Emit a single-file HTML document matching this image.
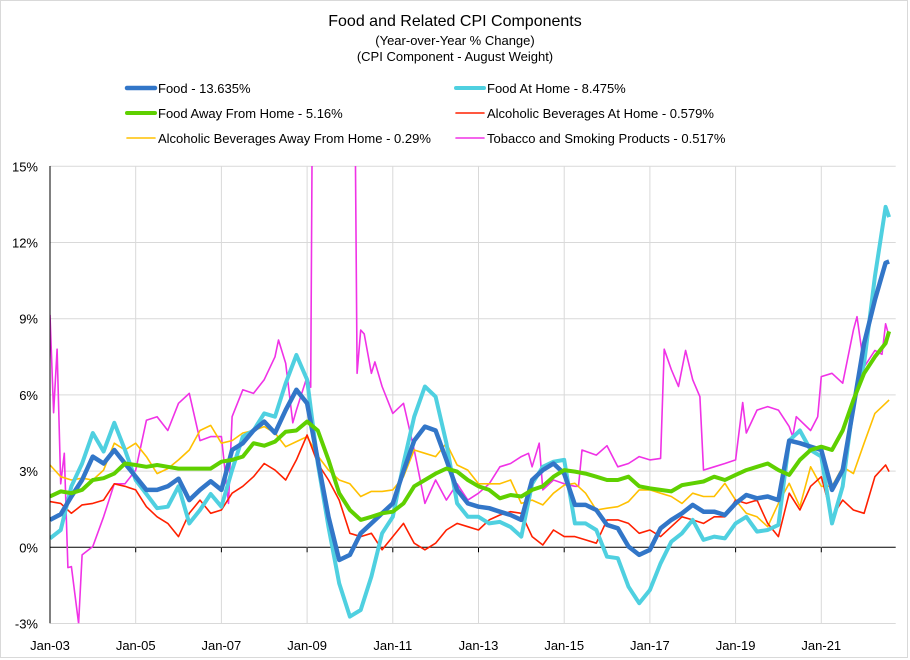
<!DOCTYPE html>
<html><head><meta charset="utf-8"><style>
html,body{margin:0;padding:0;background:#fff;}
svg{display:block;font-family:"Liberation Sans",sans-serif;}
</style></head><body>
<svg id="chart" width="910" height="660">
<rect x="0.5" y="0.5" width="907" height="657" fill="#fff" stroke="#d9d9d9"/>
<text x="455" y="26" text-anchor="middle" font-size="16" fill="#000">Food and Related CPI Components</text>
<text x="455" y="45" text-anchor="middle" font-size="13" fill="#000">(Year-over-Year % Change)</text>
<text x="455" y="61" text-anchor="middle" font-size="13" fill="#000">(CPI Component - August Weight)</text>
<g id="legend"></g>
<g id="grid"></g>
<g id="series"></g>
<g id="axes"></g>
</svg>
<script>
const monthsQ = [];
for (let m = 0; m <= 234; m += 3) monthsQ.push(m);
monthsQ.push(235);
const foodVals = [1.08,1.3,2.0,2.65,3.57,3.3,3.83,3.3,2.78,2.26,2.26,2.4,2.7,1.86,2.26,2.6,2.26,3.83,4.1,4.6,4.95,4.5,5.4,6.2,5.67,3.44,1.2,-0.5,-0.3,0.55,0.94,1.34,1.73,3.0,4.2,4.75,4.6,3.44,2.26,1.73,1.6,1.54,1.4,1.27,1.08,2.65,3.04,3.3,2.9,1.67,1.67,1.47,0.88,0.75,0.03,-0.3,-0.1,0.75,1.08,1.34,1.67,1.4,1.4,1.27,1.73,2.06,1.93,2.0,1.86,4.2,4.1,3.96,3.83,2.26,3.04,5.5,8.03,9.74,11.2,11.25];
const foodHomeVals = [0.35,0.68,2.4,3.3,4.5,3.77,4.9,3.83,2.65,2.1,1.54,1.6,2.4,0.94,1.47,2.1,1.6,3.04,4.36,4.6,5.27,5.14,6.46,7.57,6.6,3.3,0.8,-1.42,-2.73,-2.47,-1.15,0.55,1.2,3.3,5.14,6.33,5.93,4.1,1.73,1.2,1.2,0.94,1.0,0.8,0.42,2.5,3.17,3.37,3.44,0.94,0.94,0.68,-0.37,-0.43,-1.55,-2.2,-1.68,-0.63,0.22,0.55,1.08,0.29,0.42,0.35,0.94,1.2,0.62,0.68,0.88,4.2,4.6,3.83,3.57,0.94,2.4,5.67,7.24,10.66,13.4,13.0];
const foodAwayVals = [2.0,2.2,2.13,2.26,2.65,2.72,2.9,3.3,3.24,3.17,3.24,3.17,3.1,3.1,3.1,3.1,3.37,3.44,3.57,4.1,4.0,4.16,4.55,4.6,4.95,4.6,3.44,2.13,1.47,1.08,1.2,1.34,1.4,1.73,2.4,2.65,2.9,3.1,2.98,2.65,2.4,2.26,1.93,2.06,2.0,2.26,2.4,2.78,3.04,2.98,2.9,2.78,2.65,2.65,2.78,2.4,2.32,2.26,2.2,2.45,2.52,2.59,2.78,2.65,2.85,3.04,3.17,3.3,3.04,2.85,3.44,3.83,3.96,3.83,4.6,5.8,6.85,7.5,8.03,8.5];
const alcHomeVals = [1.8,1.73,1.34,1.67,1.73,1.86,2.5,2.4,2.26,1.6,1.2,0.94,0.42,1.34,1.86,1.34,1.47,2.13,2.4,2.78,3.3,3.04,2.65,3.44,4.42,3.3,2.65,1.86,0.55,0.42,0.55,-0.1,0.42,0.94,0.16,-0.1,0.16,0.68,0.94,0.81,0.68,1.08,1.27,1.4,1.34,0.42,0.09,0.68,0.42,0.42,0.29,0.16,1.08,1.08,0.94,0.55,0.68,0.42,0.81,1.2,1.08,0.94,1.2,1.2,1.86,1.73,1.86,0.94,0.42,2.13,1.47,2.4,2.78,1.2,1.86,1.47,1.34,2.78,3.24,2.98];
const alcAwayVals = [3.24,2.78,2.65,2.72,2.65,3.04,4.1,3.83,4.1,3.57,2.9,3.1,3.44,3.83,4.6,4.8,4.1,4.2,4.5,4.6,4.75,4.5,3.96,4.16,4.36,3.6,3.04,2.65,2.5,2.0,2.2,2.2,2.26,2.78,3.83,3.7,3.57,4.1,3.24,3.04,2.5,2.5,2.5,2.65,1.73,1.86,1.67,2.13,2.45,2.52,2.13,1.47,1.54,1.6,1.8,2.26,2.26,2.13,2.0,1.73,2.13,2.0,2.0,2.52,1.86,1.34,1.2,0.81,1.73,2.52,1.6,3.17,2.4,2.4,3.17,2.9,4.1,5.27,5.67,5.8];
const tobaccoMonths = [0,1,2,3,4,5,6,8,9,12,15,18,21,24,27,30,33,36,39,42,45,48,50,51,54,57,60,63,64,66,68,69,72,73,74,75,78,81,84,85,86,87,88,90,91,93,96,99,102,105,108,111,114,117,120,123,126,129,132,134,135,137,138,141,144,147,148,149,153,156,159,162,165,168,171,172,174,176,178,180,182,183,186,189,192,194,195,198,201,204,207,208,209,213,215,216,219,222,225,226,228,231,233,234,235];
const tobaccoVals = [9.15,5.3,7.8,2.5,3.7,-0.8,-0.76,-3.0,-0.3,0.03,1.2,2.5,2.5,3.04,5.0,5.14,4.6,5.67,6.06,4.2,4.36,4.36,1.73,5.14,6.2,6.06,6.6,7.5,8.16,7.24,4.9,5.4,6.72,6.3,30,35,38,36,33,25,6.85,8.55,8.4,6.85,7.3,6.33,5.27,5.67,3.83,1.73,2.65,1.86,2.5,1.86,2.13,2.5,3.17,3.3,3.57,3.7,3.17,4.1,2.26,2.65,2.5,2.4,2.4,3.83,3.63,4.0,3.17,3.3,3.57,3.44,3.5,7.8,7.0,6.33,7.75,6.6,5.93,3.04,3.17,3.3,3.44,5.7,4.5,5.4,5.54,5.4,4.75,4.36,5.14,4.6,5.14,6.72,6.85,6.46,8.55,9.08,7.1,7.75,7.6,8.8,8.3];
const yTicks = [-3,0,3,6,9,12,15];
const yTickLabels = ["-3%","0%","3%","6%","9%","12%","15%"];
const xTickMonths = [0,24,48,72,96,120,144,168,192,216];
const xTickLabels = ["Jan-03","Jan-05","Jan-07","Jan-09","Jan-11","Jan-13","Jan-15","Jan-17","Jan-19","Jan-21"];

const NS="http://www.w3.org/2000/svg";
const X0=50, PX_PER_M=3.5708, XR=895.7, Y0=547.3, PX_PER_PCT=25.4, YTOP=166, YBOT=623.3;
const xs = m => X0 + m*PX_PER_M;
const ys = v => Y0 - v*PX_PER_PCT;
function mk(tag, attrs, parent){const e=document.createElementNS(NS,tag);for(const k in attrs)e.setAttribute(k,attrs[k]);parent.appendChild(e);return e;}

const svg=document.getElementById('chart');
const defs=mk('defs',{},svg);
const cp=mk('clipPath',{id:'plotclip'},defs);
mk('rect',{x:X0,y:YTOP,width:XR-X0,height:YBOT-YTOP},cp);

const grid=document.getElementById('grid');
yTicks.forEach((t,i)=>{
  const g=mk('line',{x1:X0,x2:XR,y1:ys(t),y2:ys(t),stroke:t===0?'#000':'#d9d9d9','stroke-width':1},grid);
  
  
  const tx=mk('text',{x:38,y:ys(t)+5,'text-anchor':'end','font-size':13,fill:'#000'},grid);
  tx.textContent=yTickLabels[i];
  
  
});
xTickMonths.forEach((m,i)=>{
  if(i>0){
    const g=mk('line',{x1:xs(m),x2:xs(m),y1:YTOP,y2:YBOT,stroke:'#d9d9d9','stroke-width':1},grid);
    
    
    const tk=mk('line',{x1:xs(m),x2:xs(m),y1:Y0,y2:Y0+5,stroke:'#000','stroke-width':1},grid);
    
    
  }
  const tx=mk('text',{x:xs(m),y:650,'text-anchor':'middle','font-size':13,fill:'#000'},grid);
  tx.textContent=xTickLabels[i];
  
  
});
const axes=document.getElementById('axes');
const ya=mk('line',{x1:X0,x2:X0,y1:YTOP,y2:YBOT,stroke:'#000','stroke-width':1},axes);



const seriesG=document.getElementById('series');
function drawSeries(months, vals, color, w, name){
  const d=months.map((m,i)=>(i?'L':'M')+xs(m).toFixed(1)+','+ys(vals[i]).toFixed(1)).join(' ');
  const p=mk('path',{d:d,fill:'none',stroke:color,'stroke-width':w,'stroke-linejoin':'round','clip-path':'url(#plotclip)'},seriesG);
  
  
}
drawSeries(tobaccoMonths,tobaccoVals,'#f032e6',1.6,'tobacco-line');
drawSeries(monthsQ,alcAwayVals,'#ffc000',1.6,'alcohol-away-line');
drawSeries(monthsQ,alcHomeVals,'#ff2000',1.6,'alcohol-home-line');
drawSeries(monthsQ,foodHomeVals,'#4fd0e0',4,'food-at-home-line');
drawSeries(monthsQ,foodVals,'#3276c8',4.5,'food-line');
drawSeries(monthsQ,foodAwayVals,'#5fd000',4,'food-away-line');

const legend=document.getElementById('legend');
const legItems=[
 [127,88,'#3276c8',4.5,'Food - 13.635%','legend-food'],
 [456,88,'#4fd0e0',4,'Food At Home - 8.475%','legend-food-at-home'],
 [127,113,'#5fd000',4,'Food Away From Home - 5.16%','legend-food-away'],
 [456,113,'#ff2000',1.6,'Alcoholic Beverages At Home - 0.579%','legend-alcohol-home'],
 [127,138,'#ffc000',1.6,'Alcoholic Beverages Away From Home - 0.29%','legend-alcohol-away'],
 [456,138,'#f032e6',1.6,'Tobacco and Smoking Products - 0.517%','legend-tobacco']
];
legItems.forEach(it=>{
  const g=mk('g',{},legend);
  
  
  mk('line',{x1:it[0],x2:it[0]+28,y1:it[1],y2:it[1],stroke:it[2],'stroke-width':it[3],'stroke-linecap':'round'},g);
  const t=mk('text',{x:it[0]+31,y:it[1]+5,'font-size':13,fill:'#000'},g);
  t.textContent=it[4];
});
</script>
</body></html>
